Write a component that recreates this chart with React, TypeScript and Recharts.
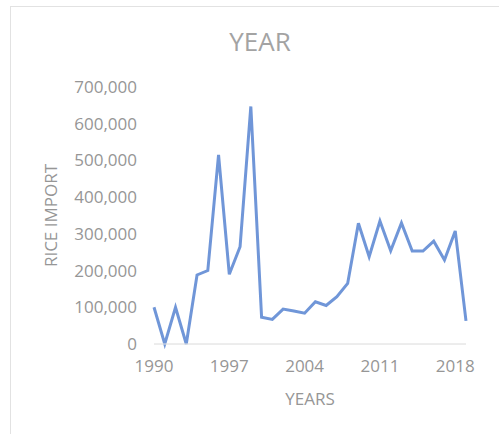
import React from "react";
import { LineChart, Line, XAxis, YAxis, ReferenceLine } from "recharts";

const years = [
  "1990", "1991", "1992", "1993", "1994", "1995", "1996", "1997", "1998", "1999",
  "2000", "2001", "2002", "2003", "2004", "2005", "2006", "2007", "2008", "2009",
  "2010", "2011", "2012", "2013", "2014", "2015", "2016", "2017", "2018", "2019",
];

const riceImport = [
  100000, 0, 100000, 0, 188000, 200000, 515000, 190000, 265000, 647000,
  73000, 67000, 95000, 90000, 84000, 115000, 105000, 129000, 165000, 329000,
  238000, 335000, 254000, 330000, 253000, 253000, 280000, 229000, 308000, 63000,
];

const yTicks = [0, 100000, 200000, 300000, 400000, 500000, 600000, 700000];

const data = years.map((year, i) => ({ year, value: riceImport[i] }));

const font = "'Open Sans', 'Noto Sans', sans-serif";
const grey = "#969696";

export default function App() {
  return (
    <div
      style={{
        position: "absolute",
        left: 0,
        top: 0,
        width: 502,
        height: 434,
        background: "#fff",
        fontFamily: font,
        overflow: "hidden",
      }}
    >
      {/* chart frame */}
      <div
        style={{
          position: "absolute",
          left: 10,
          top: 6,
          width: 488,
          height: 440,
          borderLeft: "1px solid #e2e2e2",
          borderTop: "1px solid #e2e2e2",
        }}
      />
      <LineChart
        width={502}
        height={434}
        data={data}
        margin={{ top: 87, right: 36, bottom: 0, left: 0 }}
      >
        <XAxis
          dataKey="year"
          interval={6}
          height={90}
          tickSize={0}
          tickMargin={16}
          axisLine={{ stroke: "#e6e6e6" }}
          tick={{ fill: grey, fontSize: 17, fontFamily: font }}
        />
        <YAxis
          width={154}
          domain={[0, 700000]}
          ticks={yTicks}
          interval={0}
          tickSize={0}
          tickMargin={17}
          axisLine={false}
          tickLine={false}
          tickFormatter={(v: number) => v.toLocaleString("en-US")}
          tick={{ fill: grey, fontSize: 17, fontFamily: font }}
        />
        <ReferenceLine y={0} stroke="#e6e6e6" />
        <Line
          type="linear"
          dataKey="value"
          stroke="#7096d8"
          strokeWidth={3}
          dot={false}
          isAnimationActive={false}
        />
      </LineChart>
      <div
        style={{
          position: "absolute",
          left: 160,
          width: 200,
          top: 28,
          textAlign: "center",
          fontSize: 26,
          lineHeight: 1,
          color: "#a3a3a3",
        }}
      >
        YEAR
      </div>
      <div
        style={{
          position: "absolute",
          left: 210,
          width: 200,
          top: 390,
          textAlign: "center",
          fontSize: 17,
          lineHeight: 1,
          color: grey,
        }}
      >
        YEARS
      </div>
      <div
        style={{
          position: "absolute",
          left: -50,
          width: 200,
          top: 207,
          height: 17,
          textAlign: "center",
          fontSize: 17,
          lineHeight: "17px",
          color: grey,
          transform: "rotate(-90deg)",
        }}
      >
        RICE IMPORT
      </div>
    </div>
  );
}
